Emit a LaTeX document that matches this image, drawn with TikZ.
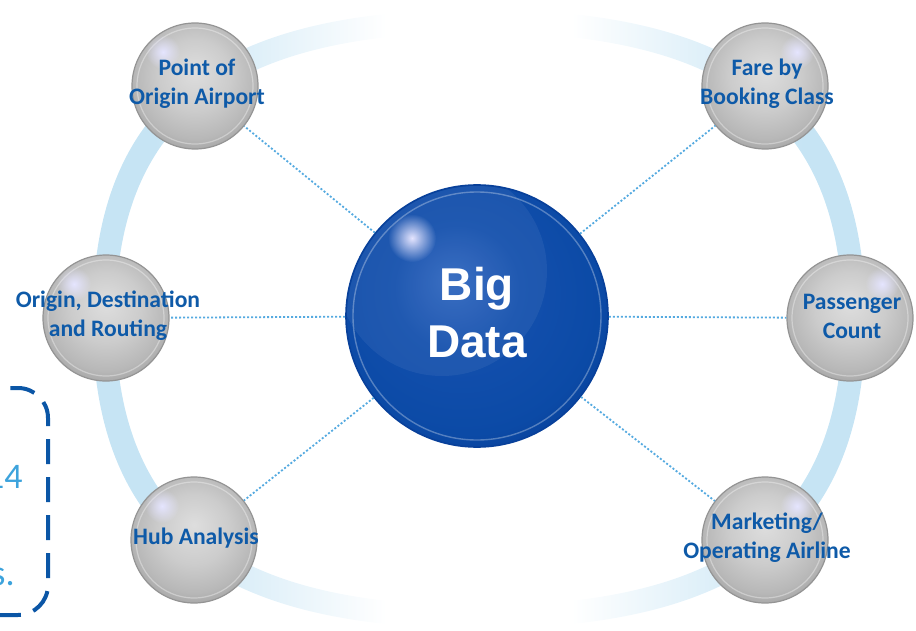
\documentclass[tikz,border=0pt]{standalone}
\usepackage{fontspec}
\usetikzlibrary{calc, fadings}
\newfontfamily\labelfont{Carlito}
\newfontfamily\hubfont{Liberation Sans}
\definecolor{RingBlue}{HTML}{C6E4F4}
\definecolor{DotBlue}{HTML}{55AAE0}
\definecolor{LabelBlue}{HTML}{0E5AA8}
\definecolor{FrameBlue}{HTML}{0B56A6}
\definecolor{NoteBlue}{HTML}{3DA3DC}
\definecolor{BlueLight}{HTML}{2F66BE}
\definecolor{BlueMid}{HTML}{134FAD}
\definecolor{BlueDeep}{HTML}{0B4AA6}
\definecolor{BlueRim}{HTML}{08409A}

% sphere fills and the fading ring
\pgfdeclareradialshading{greyball}{\pgfqpoint{0bp}{6bp}}{%
  color(0bp)=(black!13); color(14bp)=(black!20); color(24bp)=(black!28);
  color(30bp)=(black!37); color(50bp)=(black!42)}
\pgfdeclareradialshading{blueball}{\pgfqpoint{-5bp}{7bp}}{%
  color(0bp)=(BlueLight); color(12bp)=(BlueMid); color(26bp)=(BlueDeep);
  color(31bp)=(BlueRim); color(50bp)=(BlueRim)}
\pgfdeclarehorizontalshading{ringfade}{100bp}{%
  color(0bp)=(RingBlue); color(29bp)=(RingBlue); color(44bp)=(white);
  color(56bp)=(white); color(71bp)=(RingBlue); color(100bp)=(RingBlue)}
\tikzfading[name=spotfade, inner color=transparent!0, outer color=transparent!100]

\tikzset{
  ball/.style={circle, minimum size=63pt, inner sep=0pt, shade, shading=greyball, draw=black!42, line width=0.6pt},
  bigball/.style={circle, minimum size=131pt, inner sep=0pt, shade, shading=blueball, draw=BlueRim, line width=0.8pt},
  balllabel/.style={align=center, text=LabelBlue, inner sep=0pt, font=\labelfont\bfseries\fontsize{11.8}{14.5}\selectfont},
  biglabel/.style={align=center, text=white, inner sep=0pt, font=\hubfont\bfseries\fontsize{23}{28.5}\selectfont},
  dotline/.style={draw=DotBlue, line width=0.9pt, dash pattern=on 1pt off 1pt},
  notetext/.style={text=NoteBlue, inner sep=0pt, font=\labelfont\fontsize{18}{22}\selectfont},
  notebox/.style={draw=FrameBlue, line width=2pt, dash pattern=on 12.5pt off 6.5pt, rounded corners=15pt},
  glint/.style={fill=blue!10!white, path fading=spotfade}
}

\begin{document}
\begin{tikzpicture}[x=0.5pt, y=-0.5pt]
\useasboundingbox (0,0) rectangle (916,631);
\clip (0,0) rectangle (916,631);

% ring behind the spheres
\begin{scope}[shift={(479,319)}]
\shade[shading=ringfade, even odd rule]
  (-386.5,0) .. controls (-386.5,-213.6) and (-266.7,-309.5) .. (0,-309.5)
  .. controls (266.7,-309.5) and (386.5,-213.6) .. (386.5,0)
  .. controls (386.5,213.6) and (266.7,309.5) .. (0,309.5)
  .. controls (-266.7,309.5) and (-386.5,213.6) .. cycle
  (-363.5,0) .. controls (-363.5,-197.7) and (-250.8,-286.5) .. (0,-286.5)
  .. controls (250.8,-286.5) and (363.5,-197.7) .. (363.5,0)
  .. controls (363.5,197.7) and (250.8,286.5) .. (0,286.5)
  .. controls (-250.8,286.5) and (-363.5,197.7) .. cycle;
\end{scope}

% note frame on the left
\draw[notebox] (-200,388) rectangle (48,615);
\node[notetext, anchor=base east] (noteyear) at (23,488) {14};
\node[notetext, anchor=base east] (noteend) at (15,585) {s.};

% centre sphere
\node[bigball] (bigdata) at (477,316) {};
\begin{scope}
  \clip (bigdata) circle (130);
  \fill[white, opacity=.06] ($(bigdata)+(-35,-45)$) circle (105);
\end{scope}
\draw[white, opacity=.3, line width=.7pt] (bigdata) circle (124);
\fill[glint] ($(bigdata)+(-65,-78)$) circle (24);
\node[biglabel] (bigtext) at ($(bigdata)+(0,-3)$) {Big\\Data};

% outer spheres
\foreach \nm/\px/\py/\side/\txt in {
  origin/195/86/-1/{Point of\\Origin Airport},
  fare/765/86/1/{Fare by\\Booking Class},
  route/106/318/-1/{Origin, Destination\\and Routing},
  count/850/318/1/{Passenger\\Count},
  hub/194/540/-1/{Hub Analysis},
  airline/765/540/1/{Marketing/\\Operating Airline}}{
  \node[ball] (\nm) at (\px,\py) {};
  \draw[white, opacity=.35, line width=.6pt] (\nm) circle (58);
  \fill[glint] ($(\nm)+(\side*32,-34)$) circle (17);
  \draw[dotline] (bigdata) -- (\nm);
  \node[balllabel] (\nm-text) at ($(\nm)+(2,-2)$) {\txt};
}
\end{tikzpicture}
\end{document}
